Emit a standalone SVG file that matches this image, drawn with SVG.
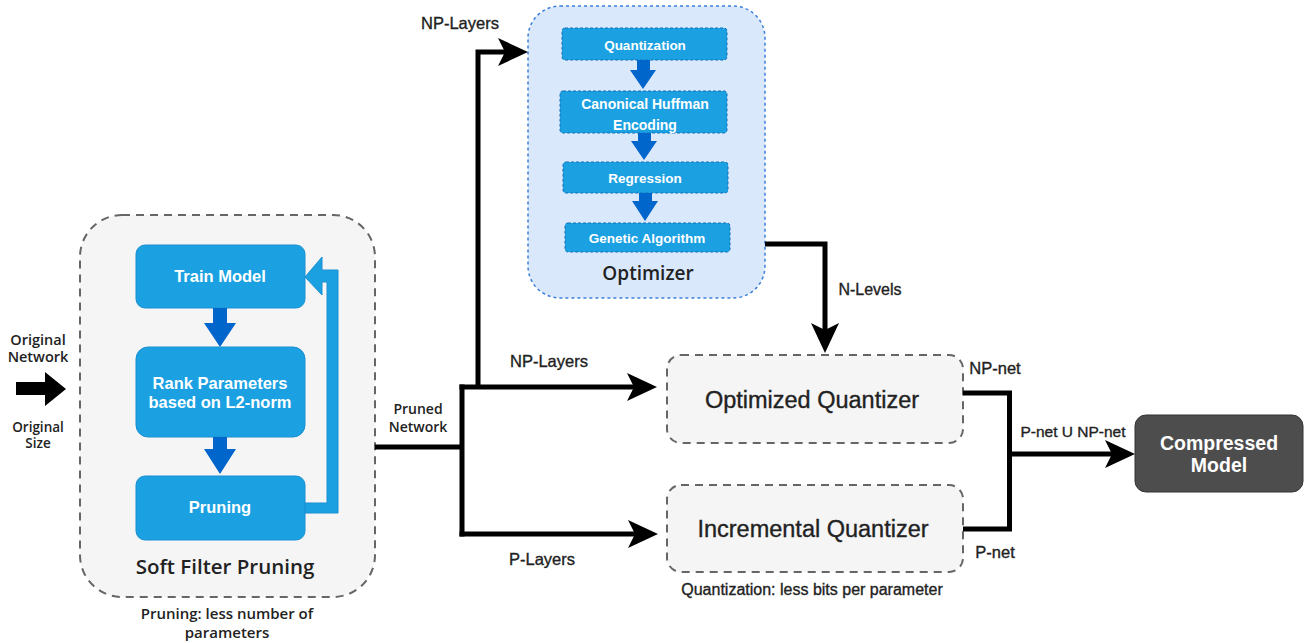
<svg xmlns="http://www.w3.org/2000/svg" width="1313" height="643" viewBox="0 0 1313 643">
<style>
.grp{fill:#f5f5f5;stroke:#666;stroke-width:2;stroke-dasharray:8 6}
.blue{fill:#1ba1e2;stroke:#1a8fd0;stroke-width:1}
.bluedash{fill:#1ba1e2;stroke:#1170b8;stroke-width:1;stroke-dasharray:3 2}
.barrow{fill:#0066cc;stroke:none}
.wl{font-family:"Liberation Sans",Arial,sans-serif;font-weight:bold;fill:#fff;text-anchor:middle}
.lbl{font-family:"Liberation Sans",Arial,sans-serif;fill:#222;stroke:#222;stroke-width:0.35;text-anchor:middle}
.os{font-family:"Open Sans",sans-serif;font-weight:600;fill:#222;text-anchor:middle}
.conn{fill:none;stroke:#000;stroke-width:5;marker-end:url(#ah)}
.plain{fill:none;stroke:#000;stroke-width:5}
</style>
<defs>
<marker id="ah" markerUnits="userSpaceOnUse" markerWidth="32" markerHeight="30" refX="20" refY="14" orient="auto" overflow="visible">
<path d="M0,0 L30,14 L0,28 L7,14 Z" fill="#000"/>
</marker>
</defs>
<rect width="1313" height="643" fill="#fff"/>

<g id="input">
<text class="os" x="38" y="345" font-size="14.5">Original</text>
<text class="os" x="38" y="362" font-size="14.5">Network</text>
<polygon points="16,382 45,382 45,372 66,389 45,406 45,395 16,395" fill="#000"/>
<text class="os" x="38" y="432" font-size="13.5">Original</text>
<text class="os" x="38" y="448" font-size="13.5">Size</text>
</g>

<g id="soft-filter-pruning">
<rect class="grp" x="80" y="215" width="295" height="382" rx="42"/>
<text class="os" x="225" y="574" font-size="20.5">Soft Filter Pruning</text>
<text class="os" x="227" y="619" font-size="15">Pruning: less number of</text>
<text class="os" x="227" y="638" font-size="15">parameters</text>
</g>
<g id="train-model">
<rect class="blue" x="136" y="245" width="169" height="63" rx="9"/>
<text class="wl" x="220" y="282" font-size="16.5">Train Model</text>
</g>
<g id="rank-parameters">
<rect class="blue" x="136" y="347" width="169" height="90" rx="12"/>
<text class="wl" x="220" y="389" font-size="16.5">Rank Parameters</text>
<text class="wl" x="220" y="408" font-size="16.5">based on L2-norm</text>
</g>
<g id="pruning">
<rect class="blue" x="136" y="476" width="169" height="64" rx="9"/>
<text class="wl" x="220" y="513" font-size="16.5">Pruning</text>
</g>
<g id="sfp-arrows">
<polygon class="barrow" points="213,308 227,308 227,323 236,323 220,347 204,323 213,323"/>
<polygon class="barrow" points="213,437 227,437 227,449 236,449 220,474 204,449 213,449"/>
<polygon points="305,503 327,503 327,282 322,282 322,295 305,277 322,257 322,270 338,270 338,513 305,513" fill="#1ba1e2" stroke="#1a8fd0" stroke-width="1"/>
</g>

<g id="optimizer">
<rect x="528" y="6" width="237" height="292" rx="32" fill="#dae8fc" stroke="#3d7fd9" stroke-width="1.5" stroke-dasharray="3 3"/>
<text class="os" x="648" y="280" font-size="19">Optimizer</text>
</g>
<g id="quantization">
<rect class="bluedash" x="562" y="28" width="165" height="32" rx="3"/>
<text class="wl" x="645" y="50" font-size="13.5">Quantization</text>
</g>
<g id="huffman">
<rect class="bluedash" x="560" y="91" width="167" height="42" rx="3"/>
<text class="wl" x="645" y="109" font-size="14">Canonical Huffman</text>
<text class="wl" x="645" y="130" font-size="14">Encoding</text>
</g>
<g id="regression">
<rect class="bluedash" x="563" y="162" width="165" height="31" rx="3"/>
<text class="wl" x="645" y="183" font-size="13.5">Regression</text>
</g>
<g id="genetic">
<rect class="bluedash" x="565" y="223" width="165" height="29" rx="3"/>
<text class="wl" x="647" y="243" font-size="13.5">Genetic Algorithm</text>
</g>
<g id="opt-arrows">
<polygon class="barrow" points="637,60 650,60 650,70 656,70 643,89 630,70 637,70"/>
<polygon class="barrow" points="638,133 651,133 651,141 657,141 644,160 631,141 638,141"/>
<polygon class="barrow" points="639,193 652,193 652,201 658,201 645,221 632,201 639,201"/>
</g>

<g id="optimized-quantizer">
<rect class="grp" x="667" y="355" width="296" height="88" rx="14"/>
<text class="lbl" x="812" y="408" font-size="23.5">Optimized Quantizer</text>
</g>
<g id="incremental-quantizer">
<rect class="grp" x="667" y="485" width="296" height="87" rx="14"/>
<text class="lbl" x="813" y="537" font-size="23.5">Incremental Quantizer</text>
<text class="lbl" x="812" y="595" font-size="16" stroke-width="0.25">Quantization: less bits per parameter</text>
</g>

<g id="compressed-model">
<rect x="1135" y="415" width="168" height="77" rx="11" fill="#4d4d4d" stroke="#333" stroke-width="1"/>
<text class="wl" x="1219" y="450" font-size="19.5">Compressed</text>
<text class="wl" x="1219" y="472" font-size="19.5">Model</text>
</g>

<g id="connectors">
<path class="plain" d="M375,447 H462"/>
<path class="plain" d="M462,384.5 V536.5"/>
<path class="conn" d="M459.5,387 H647"/>
<path class="conn" d="M459.5,534 H648"/>
<path class="conn" d="M478,387 V52 H518"/>
<path class="conn" d="M765,244 H825 V343"/>
<path class="plain" d="M963,393 H1009.5 V529 H963"/>
<path class="conn" d="M1009,454 H1125"/>
<text class="lbl" x="460" y="29" font-size="16.5">NP-Layers</text>
<text class="lbl" x="549" y="367" font-size="16.5">NP-Layers</text>
<text class="lbl" x="542" y="565" font-size="16.5">P-Layers</text>
<text class="os" x="418" y="414" font-size="14">Pruned</text>
<text class="os" x="418" y="432" font-size="14">Network</text>
<text class="lbl" x="870" y="295" font-size="16">N-Levels</text>
<text class="lbl" x="995" y="374" font-size="16.5">NP-net</text>
<text class="lbl" x="995" y="558" font-size="16.5">P-net</text>
<text class="lbl" x="1073" y="437" font-size="15.5">P-net U NP-net</text>
</g>
</svg>
